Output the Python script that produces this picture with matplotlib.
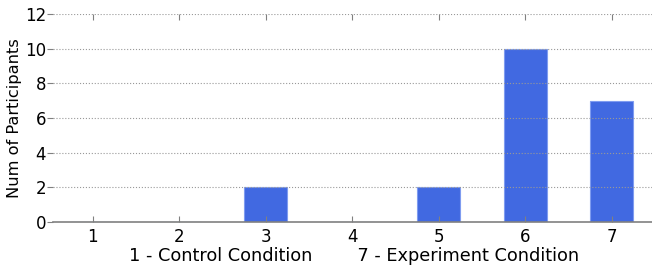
import matplotlib.pyplot as plt

ratings = [1, 2, 3, 4, 5, 6, 7]
counts = [0, 0, 2, 0, 2, 10, 7]
y_ticks = [0, 2, 4, 6, 8, 10, 12]

fig = plt.figure(figsize=(6.52, 2.69), dpi=100)
ax = fig.add_axes([53 / 652, 47 / 269, 602 / 652, 208 / 269])

ax.bar(ratings, counts, width=0.5, color='#4169e1', edgecolor='#7f9cf0', linewidth=0.8, zorder=1)

ax.set_xlim(0.54, 7.5)
ax.set_ylim(0, 12)
ax.set_xticks(ratings)
ax.set_yticks(y_ticks)
ax.yaxis.grid(True, linestyle=':', color='#999999', linewidth=0.8)
ax.set_axisbelow(False)

for side in ['left', 'right', 'top']:
    ax.spines[side].set_visible(False)
ax.spines['bottom'].set_color('#808080')
ax.spines['bottom'].set_linewidth(1.2)

ax.tick_params(axis='x', direction='in', length=4, color='#808080', top=True, labelsize=12, pad=4)
ax.tick_params(axis='y', direction='out', length=4, color='#808080', labelsize=12, pad=1)

ax.set_xlabel('1 - Control Condition        7 - Experiment Condition', fontsize=12.8, labelpad=1)
ax.set_ylabel('Num of Participants', fontsize=11.7)
ax.yaxis.set_label_coords(-0.051, 0.5)

fig.savefig('out.png', dpi=100)
